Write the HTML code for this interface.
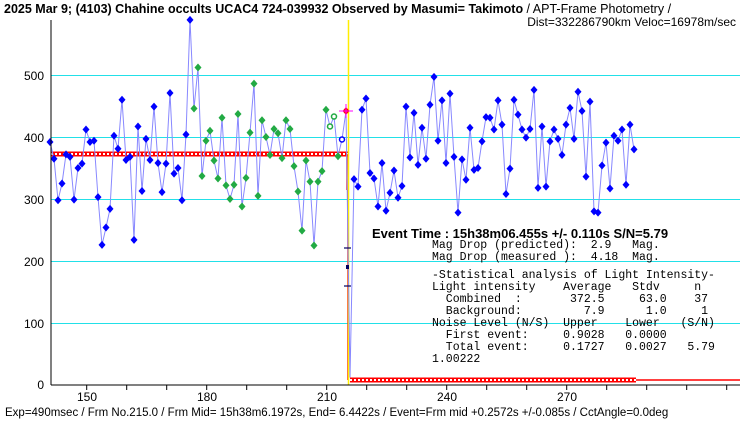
<!DOCTYPE html>
<html><head><meta charset="utf-8"><style>
body{margin:0;background:#fff}
svg{display:block}
text{font-family:"Liberation Sans",sans-serif}
.m{font-family:"Liberation Mono",monospace;font-size:11.5px}
</style></head><body>
<svg id="s" width="740" height="425" viewBox="0 0 740 425" xmlns="http://www.w3.org/2000/svg">
<rect width="740" height="425" fill="#fff"/>
<g stroke="#22e0e8" stroke-width="1">
<line x1="51" y1="75.5" x2="740" y2="75.5"/>
<line x1="51" y1="137.5" x2="740" y2="137.5"/>
<line x1="51" y1="199.5" x2="740" y2="199.5"/>
<line x1="51" y1="261.5" x2="740" y2="261.5"/>
<line x1="51" y1="323.5" x2="740" y2="323.5"/>
</g>
<g font-size="12" text-anchor="end" fill="#000">
<text x="44" y="80">500</text><text x="44" y="142">400</text><text x="44" y="204">300</text>
<text x="44" y="266">200</text><text x="44" y="328">100</text><text x="44" y="389">0</text>
</g>
<g font-size="12" text-anchor="middle" fill="#000">
<text x="87" y="401">150</text><text x="207" y="401">180</text><text x="327" y="401">210</text>
<text x="447" y="401">240</text><text x="567" y="401">270</text>
</g>
<g id="ticks" stroke="#000"></g>
<text x="4" y="13" font-size="12.5" font-weight="bold">2025 Mar 9; (4103) Chahine occults UCAC4 724-039932 Observed by Masumi= Takimoto<tspan font-weight="normal"> / APT-Frame Photometry /</tspan></text>
<text x="736" y="26" font-size="12" text-anchor="end">Dist=332286790km Veloc=16978m/sec</text>
<text x="5" y="416" font-size="11.5">Exp=490msec / Frm No.215.0 / Frm Mid= 15h38m6.1972s,  End= 6.4422s / Event=Frm mid +0.2572s +/-0.085s / CctAngle=0.0deg</text>
<!-- red band -->
<line x1="51" y1="154" x2="348" y2="154" stroke="#f00" stroke-width="5"/>
<line x1="51" y1="154" x2="348" y2="154" stroke="#fff" stroke-width="2" stroke-dasharray="2,2"/>
<line x1="350" y1="380" x2="636" y2="380" stroke="#f00" stroke-width="5"/>
<line x1="350" y1="380" x2="636" y2="380" stroke="#fff" stroke-width="2" stroke-dasharray="2,2"/>
<line x1="636" y1="380" x2="740" y2="380" stroke="#f00" stroke-width="1.5"/>
<line x1="347" y1="154" x2="347" y2="190" stroke="#f00" stroke-width="1.5"/>
<line x1="348" y1="190" x2="348" y2="380" stroke="#f00" stroke-width="1.5"/>
<line x1="348.5" y1="20" x2="348.5" y2="385" stroke="#ffee00" stroke-width="1.5"/>
<polyline id="pl" fill="none" stroke="#8888ff" stroke-width="1"/>
<g id="mk"></g>
<g stroke="#000060" stroke-width="1.2">
<line x1="344" y1="248" x2="351" y2="248"/><line x1="344" y1="286" x2="351" y2="286"/>
</g>
<rect x="346" y="265" width="3" height="4" fill="#000060"/>
<line x1="51" y1="20" x2="51" y2="385" stroke="#000"/>
<line x1="51" y1="385" x2="740" y2="385" stroke="#000"/>
<text x="372" y="238" font-size="13" font-weight="bold">Event Time : 15h38m06.455s  +/- 0.110s  S/N=5.79</text>
<g class="m" fill="#000">
<text x="432" y="248" class="m" xml:space="preserve">Mag Drop (predicted):  2.9   Mag.</text>
<text x="432" y="260" class="m" xml:space="preserve">Mag Drop (measured ):  4.18  Mag.</text>
<text x="432" y="278" class="m" xml:space="preserve">-Statistical analysis of Light Intensity-</text>
<text x="432" y="290" class="m" xml:space="preserve">Light intensity    Average   Stdv     n</text>
<text x="432" y="302" class="m" xml:space="preserve">  Combined  :       372.5     63.0    37</text>
<text x="432" y="314" class="m" xml:space="preserve">  Background:         7.9      1.0     1</text>
<text x="432" y="326" class="m" xml:space="preserve">Noise Level (N/S)  Upper    Lower   (S/N)</text>
<text x="432" y="338" class="m" xml:space="preserve">  First event:     0.9028   0.0000</text>
<text x="432" y="350" class="m" xml:space="preserve">  Total event:     0.1727   0.0027   5.79</text>
<text x="432" y="362" class="m" xml:space="preserve">1.00222</text>
</g>
</svg>
<script>
var NS="http://www.w3.org/2000/svg";
var b1=[392,365,298,325,372,368,299,350,357,412,392,394,303,226,254,284,402,381,460,363,368,234,417,313,397,363,449,358,311,357,471,341,350,298,404,589];
var g=[446,512,337,394,410,362,333,431,322,300,323,437,288,334,407,486,305,427,400,371,413,406,366,427,413,353,312,249,362,328,225,328,345,444,417,433,369];
var b2=[332,320,444,462,342,333,288,358,281,310,346,302,321,449,367,439,355,415,365,452,497,394,459,358,470,368,278,364,331,415,347,350,393,432,431,412,459,420,308,349,460,436,412,399,413,476,318,417,320,393,412,397,371,420,447,397,473,442,336,457,280,278,354,391,317,402,394,412,323,420,380];
var pts=[];
function X(k){return 50+4*k} function Y(v){return 385-0.62*v}
var all=[];
b1.forEach(function(v,i){all.push([i,v,'b'])});
g.forEach(function(v,i){all.push([36+i,v,(i==34||i==35)?'go':'g'])});
all.push([73,396,'bo']);all.push([74,442,'r']);all.push([75,12,'n']);
b2.forEach(function(v,i){all.push([76+i,v,'b'])});
var mk=document.getElementById('mk');
all.forEach(function(p){
 var x=X(p[0]),y=Y(p[1]);pts.push(x+','+y);
 if(p[2]=='n')return;
 var e;
 if(p[2]=='go'||p[2]=='bo'){e=document.createElementNS(NS,'circle');e.setAttribute('cx',x);e.setAttribute('cy',y);e.setAttribute('r',2.5);e.setAttribute('fill','#fff');e.setAttribute('stroke',p[2]=='go'?'#22aa44':'#0000ff');e.setAttribute('stroke-width',1.5);}
 else{e=document.createElementNS(NS,'polygon');e.setAttribute('points',x+','+(y-4)+' '+(x+3.5)+','+y+' '+x+','+(y+4)+' '+(x-3.5)+','+y);
 e.setAttribute('fill',p[2]=='b'?'#0000ff':p[2]=='g'?'#22aa44':'#ff0000');}
 mk.appendChild(e);
 if(p[2]=='r'){var c=document.createElementNS(NS,'path');c.setAttribute('d','M'+(x-7)+' '+y+'h14M'+x+' '+(y-7)+'v14');c.setAttribute('stroke','#ff00ff');c.setAttribute('stroke-width',1);mk.appendChild(c);}
});
document.getElementById('pl').setAttribute('points',pts.join(' '));
var t=document.getElementById('ticks');
for(var x=86.7;x<740;x+=40){var l=document.createElementNS(NS,'line');l.setAttribute('x1',x);l.setAttribute('x2',x);l.setAttribute('y1',385);l.setAttribute('y2',390);t.appendChild(l);}
</script>
</body></html>
